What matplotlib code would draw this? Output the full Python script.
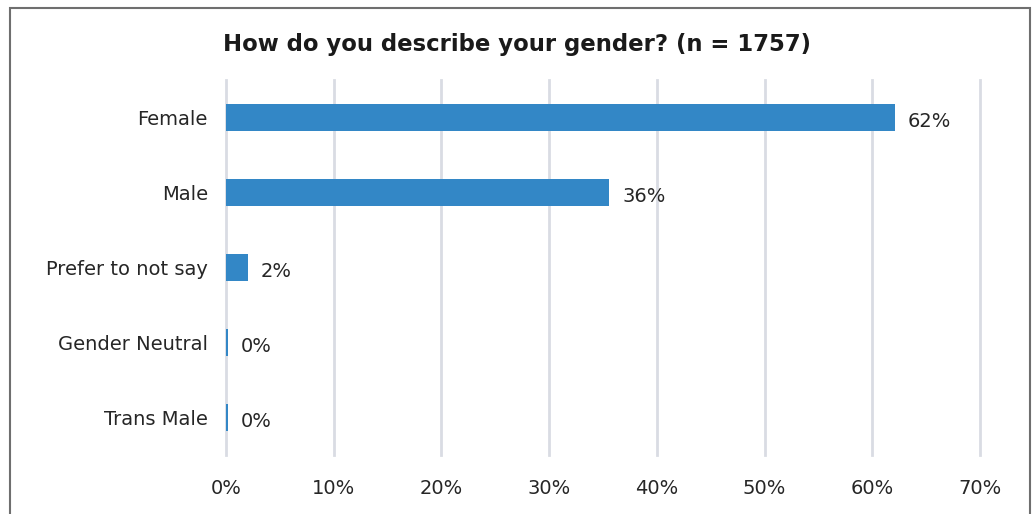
import matplotlib.pyplot as plt
from matplotlib.patches import Rectangle

categories = ['Female', 'Male', 'Prefer to not say', 'Gender Neutral', 'Trans Male']
values = [62.1, 35.6, 2.0, 0.15, 0.15]
labels = ['62%', '36%', '2%', '0%', '0%']
xticks = [0, 10, 20, 30, 40, 50, 60, 70]

plt.rcParams['font.family'] = ['DejaVu Sans']

fig = plt.figure(figsize=(10.34, 5.14), dpi=100)
ax = fig.add_axes([226/1034, 1-455/514, (980-226)/1034, 375/514])

ax.barh(range(len(categories)), values, height=0.37, color='#3387C6', zorder=3)
for i, (v, l) in enumerate(zip(values, labels)):
    ax.text(v + 1.2, i + 0.05, l, va='center', ha='left', fontsize=14, color='#262626')

ax.set_xlim(0, 70)
ax.set_ylim(4.5, -0.5)
ax.set_yticks(range(len(categories)))
ax.set_yticklabels(categories, fontsize=14, color='#262626')
ax.set_xticks(xticks)
ax.set_xticklabels([str(t) + '%' for t in xticks], fontsize=14, color='#262626')
ax.tick_params(length=0)
ax.tick_params(axis='y', pad=13)
ax.tick_params(axis='x', pad=17)
ax.grid(axis='x', color='#D9DCE3', linewidth=2, zorder=0)
for gl in ax.get_xgridlines():
    gl.set_clip_on(False)
for s in ax.spines.values():
    s.set_visible(False)

fig.text(517/1034, 1-45/514, 'How do you describe your gender? (n = 1757)',
         ha='center', va='center', fontsize=16.4, fontweight='bold', color='#1a1a1a')

fig.patches.append(Rectangle((10/1034, -0.05), 1020/1034, 1.05 - 8/514,
                             transform=fig.transFigure, fill=False,
                             edgecolor='#6f6f6f', linewidth=1.5))

fig.savefig('out.png', dpi=100)
